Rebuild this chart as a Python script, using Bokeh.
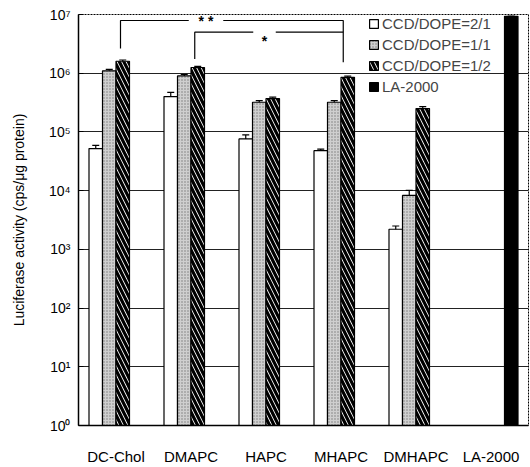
import math
from bokeh.plotting import figure
from bokeh.models import (ColumnDataSource, Whisker, Legend, LegendItem,
                          FixedTicker, Range1d)
from bokeh.embed import file_html
from bokeh.resources import INLINE
from bokeh.core.properties import value

nan = float("nan")

# ---------------- data ----------------
categories = ["DC-Chol", "DMAPC", "HAPC", "MHAPC", "DMHAPC", "LA-2000"]
series_names = ["CCD/DOPE=2/1", "CCD/DOPE=1/1", "CCD/DOPE=1/2", "LA-2000"]

ratio_2_1 = [5.2e4, 4.0e5, 7.6e4, 4.8e4, 2.2e3, nan]
ratio_1_1 = [1.1e6, 9.0e5, 3.2e5, 3.2e5, 8.3e3, nan]
ratio_1_2 = [1.6e6, 1.25e6, 3.7e5, 8.5e5, 2.5e5, nan]
la_2000 = [nan, nan, nan, nan, nan, 9.3e6]

err_2_1 = [0.7e4, 0.7e5, 1.3e4, 0.3e4, 0.3e3, nan]
err_1_1 = [0.6e5, 0.5e5, 0.2e5, 0.2e5, 1.8e3, nan]
err_1_2 = [0.8e5, 0.6e5, 0.2e5, 0.4e5, 0.2e5, nan]
err_la = [nan, nan, nan, nan, nan, 0.0]

y_ticks = [1, 10, 100, 1e3, 1e4, 1e5, 1e6, 1e7]
y_tick_labels = ["10\u2070", "10\u00b9", "10\u00b2", "10\u00b3",
                 "10\u2074", "10\u2075", "10\u2076", "10\u2077"]

sig_labels = ["* *", "*"]

# ---------------- figure ----------------
p = figure(width=530, height=467, output_backend="svg", toolbar_location=None,
           y_axis_type="log", x_range=Range1d(-0.5, 5.5), y_range=Range1d(1, 1e7),
           min_border_left=78, min_border_right=2, min_border_top=14,
           min_border_bottom=34)

FONT = "Liberation Sans"
offsets = [-0.27, -0.09, 0.09, 0.27]
width = 0.18
idx = list(range(len(categories)))

series = [ratio_2_1, ratio_1_1, ratio_1_2, la_2000]
errors = [err_2_1, err_1_1, err_1_2, err_la]
styles = [
    dict(fill_color="white", hatch_pattern=None),
    dict(fill_color="#cfcfcf", hatch_pattern=".", hatch_color="#7a7a7a",
         hatch_scale=3, hatch_weight=1),
    dict(fill_color="white", hatch_pattern="\\", hatch_color="black",
         hatch_scale=9, hatch_weight=3.2),
    dict(fill_color="black", hatch_pattern=None),
]

renderers = []
for vals, errs, off, st in zip(series, errors, offsets, styles):
    xs = [i + off for i in idx]
    src = ColumnDataSource(dict(
        x=xs, top=vals, bottom=[1] * len(vals),
        upper=[v + e for v, e in zip(vals, errs)],
        lower=[v - e for v, e in zip(vals, errs)]))
    kw = {k: v for k, v in st.items() if v is not None}
    r = p.vbar(x="x", top="top", bottom="bottom", width=width, source=src,
               line_color="black", line_width=1.2, **kw)
    renderers.append(r)
    w = Whisker(base="x", upper="upper", lower="lower", source=src,
                line_color="black", line_width=1.2)
    w.upper_head.size = 7
    w.lower_head.size = 7
    w.upper_head.line_width = 1.2
    w.lower_head.line_width = 1.2
    p.add_layout(w)

# ---------------- brackets ----------------
br_xs = [
    [0.06, 0.06, 0.97],
    [1.43, 3.03, 3.03],
    [1.05, 1.05, 1.83],
    [2.13, 3.03],
]
br_ys = [
    [ratio_1_2[0] * 1.65, 7.9e6, 7.9e6],
    [7.9e6, 7.9e6, ratio_1_2[3] * 1.8],
    [ratio_1_2[1] * 1.4, 5.0e6, 5.0e6],
    [5.0e6, 5.0e6],
]
p.multi_line(xs=br_xs, ys=br_ys, line_color="black", line_width=1.2)
p.text(x=[1.2, 1.98], y=[7.9e6, 3.6e6], text=sig_labels,
       text_font=value(FONT), text_font_size="14px", text_font_style="bold",
       text_align="center", text_baseline="middle", text_color="black")

# ---------------- axes ----------------
p.yaxis.ticker = FixedTicker(ticks=y_ticks)
p.yaxis.major_label_overrides = {t: l for t, l in zip(y_ticks, y_tick_labels)}
p.yaxis.axis_label = "Luciferase activity (cps/\u03bcg protein)"
p.yaxis.axis_label_text_font = FONT
p.yaxis.axis_label_text_font_size = "14px"
p.yaxis.axis_label_text_font_style = "normal"
p.yaxis.axis_label_standoff = 19
p.yaxis.major_label_text_font = FONT
p.yaxis.major_label_text_font_size = "14px"
p.yaxis.major_label_standoff = 8
p.yaxis.major_tick_in = 5
p.yaxis.major_tick_out = 0
p.yaxis.minor_tick_line_color = None
p.yaxis.axis_line_width = 1.5

p.xaxis.ticker = FixedTicker(ticks=idx)
p.xaxis.major_label_overrides = {i: c for i, c in zip(idx, categories)}
p.xaxis.major_label_text_font = FONT
p.xaxis.major_label_text_font_size = "15px"
p.xaxis.major_label_standoff = 16
p.xaxis.major_tick_line_color = None
p.xaxis.minor_tick_line_color = None
p.xaxis.axis_line_width = 1.5

for ax in (p.xaxis, p.yaxis):
    ax.major_label_text_color = "black"
    ax.axis_line_color = "black"
    ax.axis_label_text_color = "black"

p.xgrid.grid_line_color = None
p.ygrid.grid_line_color = "#222222"
p.ygrid.grid_line_width = 1.2
p.outline_line_color = "black"
p.outline_line_dash = "2 1"
p.outline_line_width = 1
p.background_fill_color = "white"
p.border_fill_color = "white"

# ---------------- legend ----------------
legend = Legend(items=[LegendItem(label=n, renderers=[r])
                       for n, r in zip(series_names, renderers)],
                location=(290, 330), background_fill_alpha=0,
                border_line_color=None, padding=0, margin=0, spacing=4,
                glyph_width=11, glyph_height=11, label_standoff=3,
                label_text_font=FONT, label_text_font_size="15px",
                label_height=15)
p.add_layout(legend)

open("out.html", "w").write(file_html(p, INLINE))
